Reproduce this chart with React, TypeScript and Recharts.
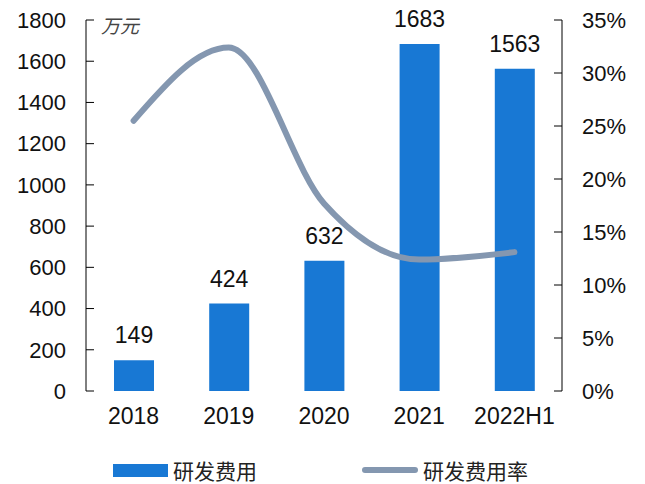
import {
  ComposedChart,
  Bar,
  Line,
  XAxis,
  YAxis,
  Legend,
  LabelList,
} from "recharts";

const YEARS = ["2018", "2019", "2020", "2021", "2022H1"];
const RD_EXPENSE = [149, 424, 632, 1683, 1563];
const RD_RATIO = [25.5, 32.4, 17.7, 12.4, 13.1];
const LEFT_TICKS = [0, 200, 400, 600, 800, 1000, 1200, 1400, 1600, 1800];
const RIGHT_TICKS = [0, 5, 10, 15, 20, 25, 30, 35];
const BOUNDARY_TICKS = [0, 1, 2, 3, 4, 5];

const BAR_COLOR = "#1878d4";
const LINE_COLOR = "#8497b0";
const FONT = "Arial, 'Liberation Sans', sans-serif";
const CJK_FONT = "'Noto Sans CJK SC', sans-serif";

const data = YEARS.map((year, i) => ({
  year,
  expense: RD_EXPENSE[i],
  ratio: RD_RATIO[i],
}));

function ChartLegend() {
  const text = { fontFamily: CJK_FONT, fontSize: 21, color: "#222" };
  return (
    <div style={{ position: "relative", width: 645, height: 40 }}>
      <div style={{ position: "absolute", left: 113, top: 20, width: 55, height: 13, background: BAR_COLOR }} />
      <span style={{ ...text, position: "absolute", left: 173, top: 11, lineHeight: "30px" }}>研发费用</span>
      <div style={{ position: "absolute", left: 362, top: 23, width: 56, height: 6, borderRadius: 3, background: LINE_COLOR }} />
      <span style={{ ...text, position: "absolute", left: 423, top: 11, lineHeight: "30px" }}>研发费用率</span>
    </div>
  );
}

export default function App() {
  return (
    <div style={{ position: "absolute", left: 0, top: 0, width: 645, height: 484, background: "#fff" }}>
      <ComposedChart
        width={645}
        height={484}
        data={data}
        margin={{ top: 20, right: 0, bottom: 0, left: 0 }}
      >
        <XAxis
          xAxisId="grid"
          type="number"
          domain={[0, 5]}
          ticks={BOUNDARY_TICKS}
          tick={false}
          tickSize={-9}
          height={0}
          stroke="#000"
          allowDataOverflow
        />
        <XAxis
          dataKey="year"
          axisLine={false}
          tickLine={false}
          tickSize={0}
          tickMargin={17}
          height={53}
          interval={0}
          tick={{ fontSize: 23, fill: "#111", fontFamily: FONT }}
        />
        <YAxis
          yAxisId="left"
          domain={[0, 1800]}
          ticks={LEFT_TICKS}
          width={86}
          tickSize={-8}
          tickMargin={28}
          stroke="#000"
          interval={0}
          tick={{ fontSize: 22, fill: "#111", fontFamily: FONT }}
        />
        <YAxis
          yAxisId="right"
          orientation="right"
          domain={[0, 35]}
          ticks={RIGHT_TICKS}
          width={83}
          tickSize={-8}
          tickMargin={28}
          stroke="#000"
          interval={0}
          tickFormatter={(v) => `${v}%`}
          tick={{ fontSize: 22, fill: "#111", fontFamily: FONT, textAnchor: "start" }}
        />
        <Legend verticalAlign="bottom" height={40} content={<ChartLegend />} />
        <Bar yAxisId="left" dataKey="expense" fill={BAR_COLOR} barSize={40} isAnimationActive={false}>
          <LabelList
            dataKey="expense"
            position="top"
            offset={17}
            style={{ fontSize: 23, fill: "#111", fontFamily: FONT }}
          />
        </Bar>
        <Line
          yAxisId="right"
          dataKey="ratio"
          type="monotone"
          stroke={LINE_COLOR}
          strokeWidth={6}
          strokeLinecap="round"
          dot={false}
          activeDot={false}
          isAnimationActive={false}
        />
      </ComposedChart>
      <div
        style={{
          position: "absolute",
          left: 101,
          top: 11,
          fontFamily: CJK_FONT,
          fontSize: 19,
          fontStyle: "italic",
          color: "#444",
        }}
      >
        万元
      </div>
    </div>
  );
}
